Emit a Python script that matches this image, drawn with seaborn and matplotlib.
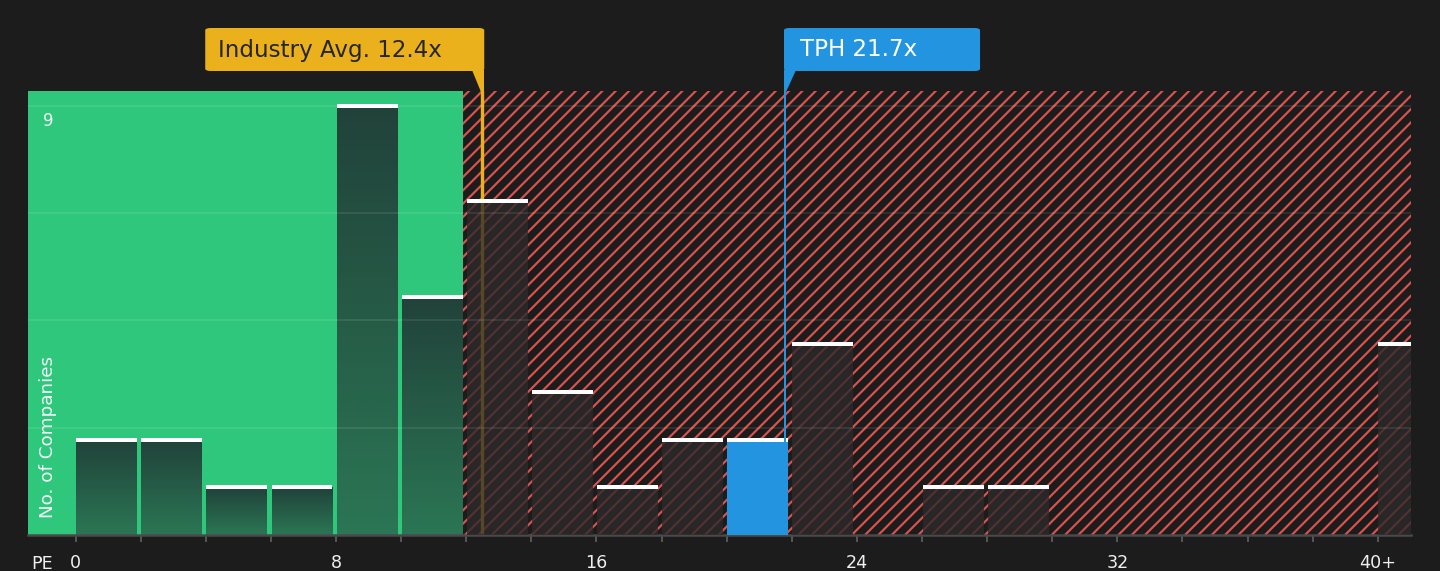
import numpy as np
import matplotlib
matplotlib.use("Agg")
import matplotlib.pyplot as plt
import matplotlib.transforms as mtransforms
import seaborn as sns
from matplotlib.patches import FancyBboxPatch, Polygon
from matplotlib.colors import LinearSegmentedColormap

# --- datos ---
pe_bin_starts = [0, 2, 4, 6, 8, 10, 12, 14, 16, 18, 20, 22, 24, 26, 28, 30, 32, 34, 36, 38, 40]
company_counts = [2, 2, 1, 1, 9, 5, 7, 3, 1, 2, 2, 4, 0, 1, 1, 0, 0, 0, 0, 0, 4]
industry_avg = 12.4
company_name = "TPH"
company_pe = 21.7
fair_limit = 11.9
x_tick_values = [0, 8, 16, 24, 32, 40]
x_tick_labels = ["0", "8", "16", "24", "32", "40+"]
minor_ticks = pe_bin_starts
y_label_value = 9

BG = "#1c1c1c"
GREEN = "#2ec77c"
RED = "#d9534f"
ORANGE = "#ebb11c"
BLUE = "#2394e0"

W, H, DPI = 1440, 571, 120

sns.set_theme(style="dark", rc={
    "figure.facecolor": BG,
    "axes.facecolor": BG,
    "hatch.linewidth": 1.3,
})
plt.rcParams["font.family"] = ["DejaVu Sans"]

fig = plt.figure(figsize=(W / DPI, H / DPI), dpi=DPI)
ax = fig.add_axes([28 / W, 36 / H, (1411 - 28) / W, (535 - 91) / H])

xmin, xmax = -1.46, 41.02
ymin, ymax = 0, 9.31

# fondo verde / zona roja rayada
ax.axvspan(xmin, fair_limit, color=GREEN, lw=0, zorder=0)
ax.axvspan(fair_limit, xmax, facecolor=BG, edgecolor=RED, hatch="///", lw=0, zorder=0)
n_fondo = len(ax.patches)

# barras
edges = pe_bin_starts + [pe_bin_starts[-1] + 2]
centers = [b + 1 for b in pe_bin_starts]
sns.histplot(x=centers, weights=company_counts, bins=edges, ax=ax,
             stat="count", element="bars", fill=True)
barras = list(ax.patches[n_fondo:])

grad_cmap = LinearSegmentedColormap.from_list("g", ["#2b7654", "#21423a"])
grad = np.linspace(0, 1, 100).reshape(-1, 1)

for patch in barras:
    x0 = patch.get_x()
    w = patch.get_width()
    h = patch.get_height()
    patch.set_x(x0 + 0.02)
    patch.set_width(w - 0.13)
    patch.set_linewidth(0)
    patch.set_zorder(3)
    x0, x1 = patch.get_x(), patch.get_x() + patch.get_width()
    if h <= 0:
        patch.set_visible(False)
        continue
    if x1 <= fair_limit + 0.1:
        patch.set_facecolor("none")
        ax.imshow(grad, extent=[x0, x1, 0, h], origin="lower", cmap=grad_cmap,
                  aspect="auto", zorder=2, interpolation="bilinear")
    elif x0 <= company_pe < x1 + 0.2:
        patch.set_facecolor(BLUE)
        patch.set_alpha(1)
    else:
        patch.set_facecolor("#2c2929")
        patch.set_alpha(0.78)
    ax.hlines(h, x0, x1, color="white", lw=2.4, zorder=5)

# líneas de referencia (ligeramente desplazadas como en el original)
shift = mtransforms.ScaledTranslation(3 / DPI, 0, fig.dpi_scale_trans)
xtrans = ax.get_xaxis_transform() + shift
ax.plot([industry_avg, industry_avg], [0, 1], color=ORANGE, lw=2.0, zorder=1,
        transform=xtrans, solid_capstyle="butt")
ax.plot([company_pe, company_pe], [0, 1], color=BLUE, lw=1.2, zorder=6,
        transform=xtrans, solid_capstyle="butt")

# cuadrícula
for gy in np.linspace(0, y_label_value, 5)[1:]:
    ax.axhline(gy, color="white", alpha=0.1, lw=1, zorder=4)

ax.set_xlim(xmin, xmax)
ax.set_ylim(ymin, ymax)
ax.set_xlabel("")
ax.set_ylabel("")
ax.set_yticks([])
ax.set_xticks(minor_ticks, minor=True)
ax.set_xticks(x_tick_values)
ax.set_xticklabels(x_tick_labels)
ax.tick_params(axis="x", which="both", bottom=True, length=4, width=1.2,
               color="#555555", direction="out")
ax.tick_params(axis="x", which="major", labelsize=10.5, labelcolor="#f0f0f0", pad=7.5)
for s in ["top", "right", "left"]:
    ax.spines[s].set_visible(False)
ax.spines["bottom"].set_color("#4a4a4a")
ax.spines["bottom"].set_linewidth(1.5)
ax.grid(False)

# textos de ejes
ax_w = 1411 - 28
ax_h = 535 - 91
ax.text((48 - 28) / ax_w, (535 - 112) / ax_h, str(y_label_value),
        transform=ax.transAxes, color="#f0f0f0", fontsize=10,
        ha="center", va="top")
ax.text((48 - 28) / ax_w, (535 - 518) / ax_h, "No. of Companies",
        transform=ax.transAxes, rotation=90, color="#f2fbf6", fontsize=11,
        ha="center", va="bottom")
fig.text(42 / W, 1 - 564 / H, "PE", color="#f0f0f0", fontsize=10.5,
         ha="center", va="center")

# etiquetas superiores
fig.canvas.draw()


def fig_xy(px, py):
    return (px / W, 1 - py / H)


def data_px(x):
    disp = ax.transData.transform((x, 0))[0]
    return disp * W / fig.bbox.width + 3


ind_x = data_px(industry_avg)
tph_x = data_px(company_pe)
box_top, box_bot, plot_top = 28, 71, 92

# Industry Avg
bx0, bx1 = ind_x - 277, ind_x + 2
fig.patches.append(FancyBboxPatch(fig_xy(bx0, box_bot), (bx1 - bx0) / W, (box_bot - box_top) / H,
                                  boxstyle="round,pad=0,rounding_size=0.004",
                                  transform=fig.transFigure, fc=ORANGE, ec="none"))
fig.patches.append(Polygon([fig_xy(ind_x - 10, box_bot - 1), fig_xy(bx1, box_bot - 1),
                            fig_xy(bx1, plot_top), fig_xy(ind_x - 1, plot_top)],
                           closed=True, transform=fig.transFigure, fc=ORANGE, ec="none"))
fig.text((bx0 + 13) / W, 1 - 50 / H, f"Industry Avg. {industry_avg}x", color="#262626",
         fontsize=13.8, ha="left", va="center")

# Empresa
tx0, tx1 = tph_x - 1, tph_x + 195
fig.patches.append(FancyBboxPatch(fig_xy(tx0, box_bot), (tx1 - tx0) / W, (box_bot - box_top) / H,
                                  boxstyle="round,pad=0,rounding_size=0.004",
                                  transform=fig.transFigure, fc=BLUE, ec="none"))
fig.patches.append(Polygon([fig_xy(tx0, box_bot - 1), fig_xy(tph_x + 11, box_bot - 1),
                            fig_xy(tph_x + 1, plot_top), fig_xy(tx0, plot_top)],
                           closed=True, transform=fig.transFigure, fc=BLUE, ec="none"))
fig.text((tx0 + 16) / W, 1 - 50 / H, f"{company_name} {company_pe}x", color="white",
         fontsize=13.8, ha="left", va="center")

fig.savefig("out.png", dpi=DPI, facecolor=BG)
